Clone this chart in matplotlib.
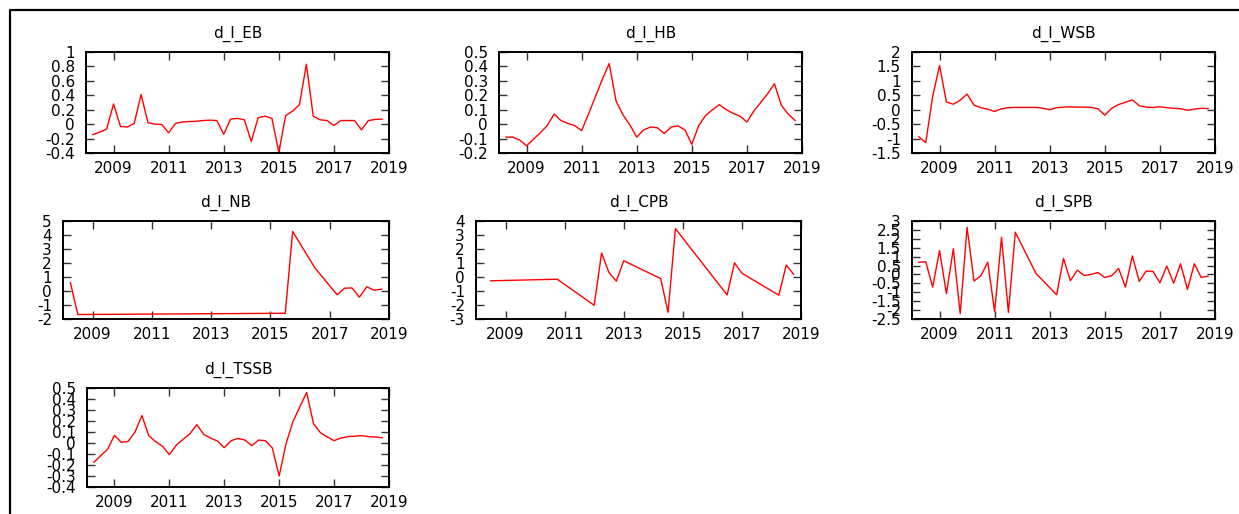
import matplotlib
matplotlib.use("Agg")
import matplotlib.pyplot as plt
from matplotlib.lines import Line2D
from matplotlib.ticker import FuncFormatter, MultipleLocator, FixedLocator

plt.rcParams['font.family'] = ['DejaVu Sans']
plt.rcParams['axes.unicode_minus'] = False

# quarterly dates 2008Q2 .. 2018Q4
quarters = [2008.25 + 0.25 * i for i in range(43)]

eb = [-0.145, -0.11, -0.07, 0.28, -0.03, -0.04, 0.01, 0.41, 0.02, 0.0, -0.005,
      -0.12, 0.01, 0.03, 0.035, 0.04, 0.05, 0.055, 0.05, -0.14, 0.07, 0.08, 0.06,
      -0.24, 0.09, 0.11, 0.08, -0.39, 0.12, 0.18, 0.27, 0.83, 0.11, 0.06, 0.05,
      -0.02, 0.05, 0.05, 0.05, -0.08, 0.05, 0.065, 0.07]

hb = [-0.09, -0.09, -0.11, -0.15, -0.105, -0.06, -0.01, 0.07, 0.025, 0.005, -0.01,
      -0.045, 0.07, 0.19, 0.31, 0.42, 0.16, 0.065, -0.005, -0.09, -0.04, -0.02,
      -0.025, -0.065, -0.02, -0.012, -0.04, -0.14, -0.01, 0.06, 0.10, 0.135, 0.10,
      0.075, 0.055, 0.015, 0.09, 0.15, 0.21, 0.28, 0.13, 0.07, 0.025]

wsb = [-0.94, -1.14, 0.46, 1.53, 0.27, 0.19, 0.33, 0.54, 0.16, 0.07, 0.02, -0.06,
       0.035, 0.07, 0.08, 0.08, 0.08, 0.08, 0.05, 0.0, 0.07, 0.09, 0.10, 0.09,
       0.09, 0.08, 0.035, -0.19, 0.05, 0.18, 0.26, 0.34, 0.14, 0.09, 0.08, 0.10,
       0.07, 0.05, 0.035, -0.02, 0.02, 0.05, 0.04]

nb_dates = [2008.25, 2008.5, 2015.5, 2015.75, 2016.5, 2017.25, 2017.5, 2017.75,
            2018.0, 2018.25, 2018.5, 2018.75]
nb = [0.6, -1.68, -1.59, 4.25, 1.65, -0.27, 0.2, 0.22, -0.44, 0.3, 0.06, 0.13]

cpb_dates = [2008.5, 2010.75, 2012.0, 2012.25, 2012.5, 2012.75, 2013.0, 2014.25,
             2014.5, 2014.75, 2016.5, 2016.75, 2017.0, 2018.25, 2018.5, 2018.75]
cpb = [-0.27, -0.16, -2.02, 1.71, 0.32, -0.3, 1.16, -0.11, -2.52, 3.45, -1.28,
       1.01, 0.27, -1.3, 0.85, 0.2]

spb_dates = [2008.25, 2008.5, 2008.75, 2009.0, 2009.25, 2009.5, 2009.75, 2010.0,
             2010.25, 2010.5, 2010.75, 2011.0, 2011.25, 2011.5, 2011.75, 2012.5,
             2013.25, 2013.5, 2013.75, 2014.0, 2014.25, 2014.5, 2014.75, 2015.0,
             2015.25, 2015.5, 2015.75, 2016.0, 2016.25, 2016.5, 2016.75, 2017.0,
             2017.25, 2017.5, 2017.75, 2018.0, 2018.25, 2018.5, 2018.75]
spb = [0.69, 0.71, -0.71, 1.34, -1.08, 1.44, -2.2, 2.65, -0.37, -0.07, 0.69,
       -2.09, 2.09, -2.13, 2.37, 0.06, -1.14, 0.9, -0.35, 0.24, -0.06, 0.0, 0.11,
       -0.17, -0.07, 0.34, -0.71, 1.04, -0.39, 0.19, 0.17, -0.47, 0.47, -0.49,
       0.6, -0.84, 0.6, -0.17, -0.09]

tssb = [-0.175, -0.115, -0.058, 0.07, 0.006, 0.015, 0.10, 0.25, 0.067, 0.012,
        -0.03, -0.106, -0.02, 0.033, 0.085, 0.167, 0.079, 0.045, 0.018, -0.042,
        0.021, 0.042, 0.027, -0.024, 0.027, 0.021, -0.045, -0.30, -0.006, 0.194,
        0.327, 0.46, 0.176, 0.094, 0.055, 0.021, 0.045, 0.058, 0.061, 0.067, 0.058,
        0.055, 0.048]

year_ticks = [2009, 2011, 2013, 2015, 2017, 2019]

W, H = 1239, 514
fig = plt.figure(figsize=(W / 100, H / 100), dpi=100)
fig.patch.set_facecolor('white')

# outer frame (partially visible)
fig.add_artist(Line2D([10 / W, 10 / W, 1.0], [0.0, 1 - 10 / H, 1 - 10 / H],
                      transform=fig.transFigure, color='black', lw=1.6))

panels = [
    ("d_l_EB", quarters, eb, (86, 52, 389, 153), (-0.4, 1.0), 0.2),
    ("d_l_HB", quarters, hb, (499, 52, 802, 153), (-0.2, 0.5), 0.1),
    ("d_l_WSB", quarters, wsb, (912, 52, 1215, 153), (-1.5, 2.0), 0.5),
    ("d_l_NB", nb_dates, nb, (63, 221, 389, 319), (-2, 5), 1),
    ("d_l_CPB", cpb_dates, cpb, (476, 221, 801, 319), (-3, 4), 1),
    ("d_l_SPB", spb_dates, spb, (912, 221, 1215, 319), (-2.5, 3), 0.5),
    ("d_l_TSSB", quarters, tssb, (87, 388, 389, 487), (-0.4, 0.5), 0.1),
]

fmt = FuncFormatter(lambda v, p: ('%g' % round(v, 6)))

for title, xs, ys, (l, t, r, b), ylim, step in panels:
    ax = fig.add_axes([l / W, 1 - b / H, (r - l) / W, (b - t) / H])
    ax.plot(xs, ys, color='#ff0000', lw=1.0)
    ax.set_xlim(2008, 2019)
    ax.set_ylim(*ylim)
    ax.xaxis.set_major_locator(FixedLocator(year_ticks))
    ax.yaxis.set_major_locator(MultipleLocator(step))
    ax.yaxis.set_major_formatter(fmt)
    ax.xaxis.set_major_formatter(FuncFormatter(lambda v, p: '%d' % v))
    ax.tick_params(direction='in', length=6, width=1.0, color='#333333',
                   top=True, right=True, labelsize=11, labelcolor='black')
    ax.tick_params(axis='y', pad=8)
    ax.tick_params(axis='x', pad=6)
    for s in ax.spines.values():
        s.set_linewidth(1.4)
        s.set_color('black')
    ax.set_title(title, fontsize=11, pad=10)

fig.savefig("out.png", dpi=100)
